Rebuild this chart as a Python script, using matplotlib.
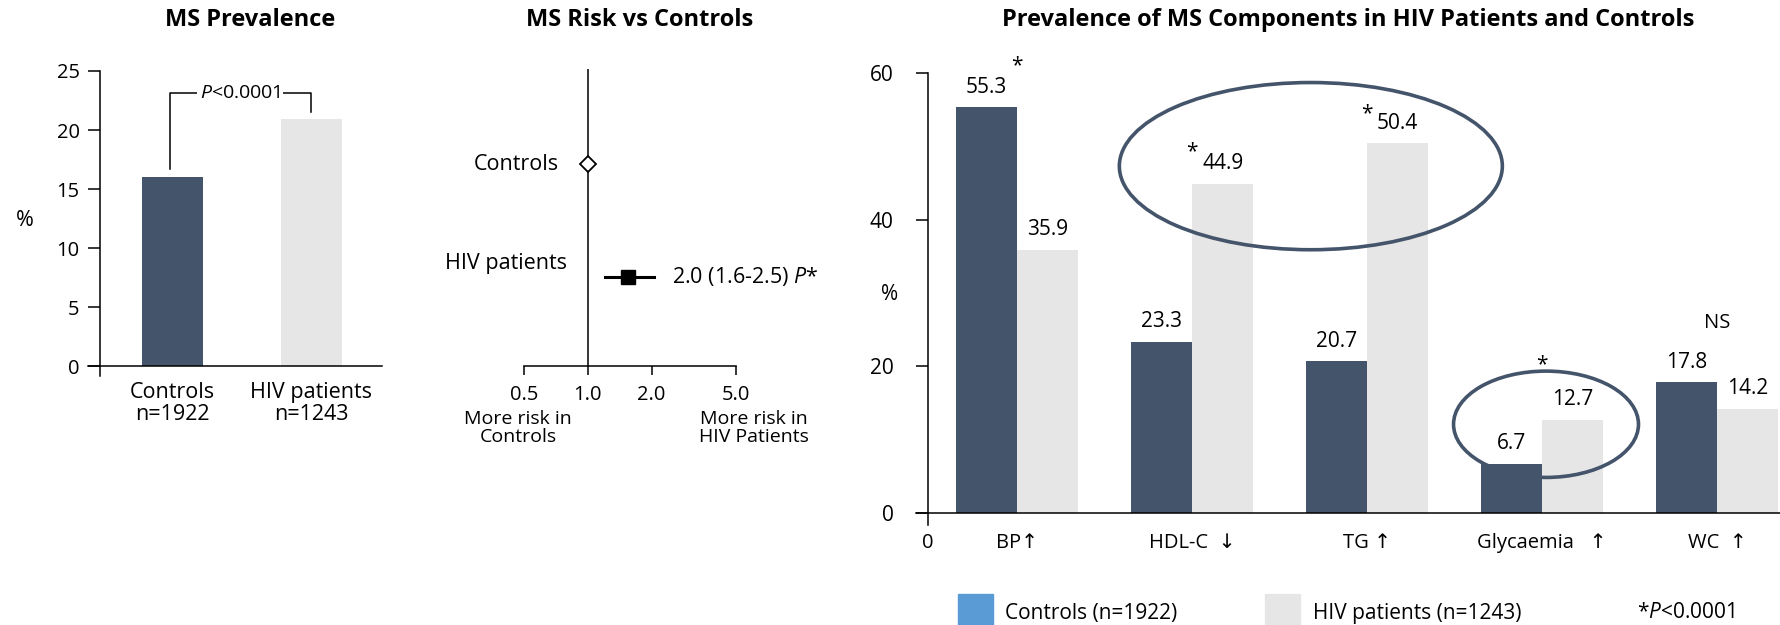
import matplotlib
matplotlib.use('Agg')
import matplotlib.pyplot as plt
from matplotlib.patches import Ellipse, Rectangle
from matplotlib.ticker import NullLocator

plt.rcParams['font.family'] = ['Open Sans', 'DejaVu Sans']
plt.rcParams['mathtext.fontset'] = 'custom'
plt.rcParams['mathtext.rm'] = 'Open Sans'
plt.rcParams['mathtext.it'] = 'Open Sans:italic'

# ---------------- data ----------------
prev_groups = ['Controls\nn=1922', 'HIV patients\nn=1243']
prev_values = [16.0, 20.9]
prev_p_text = r'$\mathit{P}$<0.0001'

risk_labels = ['Controls', 'HIV patients']
risk_ref = 1.0
risk_point = 1.55         # as drawn on the axis
risk_ci = [1.2, 2.05]     # as drawn on the axis
risk_text = r'2.0 (1.6-2.5) $\mathit{P}$*'
risk_ticks = [0.5, 1.0, 2.0, 5.0]
risk_ticklabels = ['0.5', '1.0', '2.0', '5.0']

comp_cats = ['BP\u2191', 'HDL-C  \u2193', 'TG \u2191', 'Glycaemia   \u2191', 'WC  \u2191']
comp_controls = [55.3, 23.3, 20.7, 6.7, 17.8]
comp_hiv = [35.9, 44.9, 50.4, 12.7, 14.2]
comp_sig = ['*', '*', '*', '*', 'NS']
comp_sig_y = [61.0, 49.2, 54.5, 20.2, 25.9]

legend_labels = ['Controls (n=1922)', 'HIV patients (n=1243)']
footnote = r'*$\mathit{P}$<0.0001'

DARK = '#44546A'
LIGHT = '#E6E6E6'
BLUE = '#5B9BD5'

W, H = 1781, 625
fig = plt.figure(figsize=(W / 100, H / 100), dpi=100)


def ax_px(l, t, r, b):
    return fig.add_axes([l / W, 1 - b / H, (r - l) / W, (b - t) / H])


def fx(x):
    return x / W


def fy(y):
    return 1 - y / H


FS_NUM = 14.5
FS_WORD = 15.5
FS_TITLE = 17
LW = 1.1

# ---------------- Panel 1 ----------------
ax1 = ax_px(100, 71, 382, 376)
xpos1 = list(range(len(prev_values)))
ax1.bar(xpos1, prev_values, width=0.44, color=[DARK, LIGHT])
ax1.set_xlim(-0.52, 1.507)
ax1.set_ylim(-0.847, 25)
for s in ['top', 'right', 'bottom']:
    ax1.spines[s].set_visible(False)
ax1.spines['left'].set_linewidth(LW)
ax1.axhline(0, xmin=-12 / 282, xmax=1, color='black', lw=LW, clip_on=False)
ax1.set_yticks([0, 5, 10, 15, 20, 25])
ax1.tick_params(axis='y', length=8.6, width=LW, labelsize=FS_NUM, pad=6)
ax1.set_xticks(xpos1)
ax1.set_xticklabels(prev_groups, fontsize=FS_WORD, linespacing=1.12)
ax1.tick_params(axis='x', length=0, pad=4)
# significance bracket
top = 23.1
ax1.plot([-0.02, -0.02, 1.0, 1.0], [prev_values[0] + 0.7, top, top, prev_values[1] + 0.6],
         color='black', lw=LW)
ax1.text(0.486, top, prev_p_text, ha='center', va='center', fontsize=14,
         bbox=dict(facecolor='white', edgecolor='none', pad=2))
fig.text(fx(25), fy(220), '%', ha='center', va='center', fontsize=FS_WORD)
fig.text(fx(250), fy(20), 'MS Prevalence', ha='center', va='center', fontsize=FS_TITLE, fontweight='bold')

# ---------------- Panel 2 ----------------
ax2 = ax_px(524, 69, 736, 366)
ax2.set_xscale('log')
ax2.set_xlim(0.5, 5)
ax2.set_ylim(0, 1)
for s in ['top', 'right', 'left']:
    ax2.spines[s].set_visible(False)
ax2.spines['bottom'].set_linewidth(LW)
ax2.axvline(risk_ref, color='black', lw=LW, zorder=1)
ax2.set_yticks([])
ax2.set_xticks(risk_ticks)
ax2.set_xticklabels(risk_ticklabels, fontsize=FS_NUM)
ax2.xaxis.set_minor_locator(NullLocator())
ax2.tick_params(axis='x', length=6.5, width=LW, pad=7)
y_ctrl, y_hiv = 0.68, 0.30
ax2.plot([risk_ref], [y_ctrl], marker='D', ms=8, mfc='white', mec='black', mew=1.3, zorder=3)
ax2.plot(risk_ci, [y_hiv, y_hiv], color='black', lw=2.2, zorder=3)
ax2.plot([risk_point], [y_hiv], marker='s', ms=9.5, color='black', zorder=4)
ax2.annotate(risk_labels[0], xy=(risk_ref, y_ctrl), xytext=(-21, 0), textcoords='offset points',
             ha='right', va='center', fontsize=FS_WORD)
ax2.annotate(risk_labels[1], xy=(risk_ref, y_hiv), xytext=(-15, 10), textcoords='offset points',
             ha='right', va='center', fontsize=FS_WORD)
ax2.annotate(risk_text, xy=(risk_ci[1], y_hiv), xytext=(13, 0), textcoords='offset points',
             ha='left', va='center', fontsize=FS_WORD)
fig.text(fx(518), fy(428), 'More risk in\nControls', ha='center', va='center', fontsize=14, linespacing=1.0)
fig.text(fx(754), fy(428), 'More risk in\nHIV Patients', ha='center', va='center', fontsize=14, linespacing=1.0)
fig.text(fx(640), fy(20), 'MS Risk vs Controls', ha='center', va='center', fontsize=FS_TITLE, fontweight='bold')

# ---------------- Panel 3 ----------------
ax3 = ax_px(928, 73, 1781, 525)
xpos3 = list(range(len(comp_cats)))
bw = 0.35
ax3.bar([x - bw / 2 for x in xpos3], comp_controls, width=bw, color=DARK)
ax3.bar([x + bw / 2 for x in xpos3], comp_hiv, width=bw, color=LIGHT)
xl = (-0.509, 4.366)
ax3.set_xlim(*xl)
ax3.set_ylim(-1.636, 60)
for s in ['top', 'right', 'bottom']:
    ax3.spines[s].set_visible(False)
ax3.spines['left'].set_linewidth(LW)
ax3.axhline(0, xmin=-12 / 853, xmax=1, color='black', lw=LW, clip_on=False)
ax3.set_yticks([0, 20, 40, 60])
ax3.tick_params(axis='y', length=8.6, width=LW, labelsize=15, pad=16)
ax3.set_xticks([xl[0]] + xpos3)
ax3.set_xticklabels(['0'] + comp_cats, fontsize=14.5)
ax3.tick_params(axis='x', length=0, pad=6)
for x, v in zip(xpos3, comp_controls):
    ax3.annotate(f'{v:.1f}', xy=(x - bw / 2, v), xytext=(0, 14.5), textcoords='offset points',
                 ha='center', va='center', fontsize=15)
for x, v in zip(xpos3, comp_hiv):
    ax3.annotate(f'{v:.1f}', xy=(x + bw / 2, v), xytext=(0, 14.5), textcoords='offset points',
                 ha='center', va='center', fontsize=15)
for x, s, y in zip(xpos3, comp_sig, comp_sig_y):
    ax3.text(x, y, s, ha='center', va='center', fontsize=15 if s == '*' else 14.5)
ax3.add_patch(Ellipse((1.679, 47.3), 2.189, 22.8, fill=False, ec=DARK, lw=2.6, clip_on=False, zorder=5))
ax3.add_patch(Ellipse((3.023, 12.1), 1.057, 14.5, fill=False, ec=DARK, lw=2.6, clip_on=False, zorder=5))
fig.text(fx(890), fy(295), '%', ha='center', va='center', fontsize=15)
fig.text(fx(1348), fy(20), 'Prevalence of MS Components in HIV Patients and Controls',
         ha='center', va='center', fontsize=FS_TITLE, fontweight='bold')

# legend
fig.add_artist(Rectangle((fx(958), fy(629)), 35 / W, 35 / H, transform=fig.transFigure, color=BLUE))
fig.add_artist(Rectangle((fx(1265), fy(629)), 35 / W, 35 / H, transform=fig.transFigure, color=LIGHT))
fig.text(fx(1005), fy(613), legend_labels[0], ha='left', va='center', fontsize=15)
fig.text(fx(1313), fy(613), legend_labels[1], ha='left', va='center', fontsize=15)
fig.text(fx(1637), fy(613), footnote, ha='left', va='center', fontsize=15)

fig.savefig('out.png', dpi=100)
